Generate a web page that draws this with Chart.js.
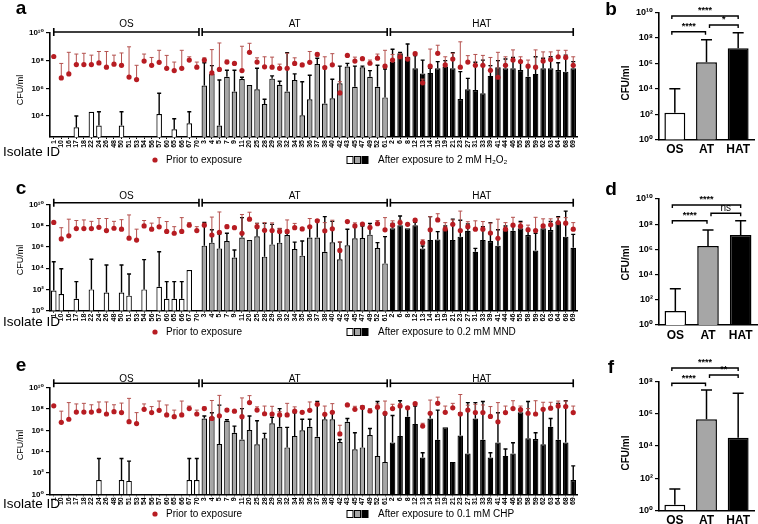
<!DOCTYPE html>
<html>
<head>
<meta charset="utf-8">
<script src="https://cdn.jsdelivr.net/npm/chart.js@4.4.1/dist/chart.umd.min.js"></script>
<style>
  body { margin: 0; background: #fff; width: 758px; height: 524px; position: relative; overflow: hidden; }
  canvas { position: absolute; }
</style>
</head>
<body>
<canvas id="chartA" width="600" height="175" style="left:0;top:0"></canvas>
<canvas id="chartC" width="600" height="170" style="left:0;top:175px"></canvas>
<canvas id="chartE" width="600" height="179" style="left:0;top:345px"></canvas>
<canvas id="chartB" width="158" height="175" style="left:600px;top:0"></canvas>
<canvas id="chartD" width="158" height="170" style="left:600px;top:175px"></canvas>
<canvas id="chartF" width="158" height="179" style="left:600px;top:345px"></canvas>
<script>
'use strict';

// Isolates, grouped
const osIds = ['1','10','16','17','18','22','24','26','48','50','51','53','54','56','57','60','65','66','67','70'];
const atIds = ['3','4','5','7','9','11','20','25','28','29','30','32','34','35','36','37','38','40','42','43','45','47','49','52','61'];
const hatIds = ['2','6','8','12','13','14','15','19','21','23','27','31','33','39','41','44','46','55','58','59','62','63','64','68','69'];
const isolateIds = osIds.concat(atIds, hatIds);

// CFU/ml prior to exposure (same in every panel) and upper error
const priorCfu = [
  2e8, 5.6e6, 1.1e7, 5.2e7, 5.2e7, 5.2e7, 6.9e7, 3.4e7, 5.6e7, 4.6e7, 6.5e6, 4.3e6, 9.3e7, 4.6e7, 7.6e7, 2.8e7, 1.9e7, 2.8e7, 1.1e8, 3.4e7,
  1.1e8, 1.3e7, 2.3e7, 7.9e7, 6.3e7, 1.9e7, 4e8, 7.9e7, 3.6e7, 3.4e7, 2.8e7, 2.8e7, 6.3e7, 4.9e7, 7.6e7, 2.8e8, 3.2e7, 5e7, 4.6e5, 2.4e8, 9.3e7, 1.4e8, 6.5e7, 1.5e8, 4e7,
  1.1e8, 1.9e8, 1.3e8, 3.2e8, 2.5e6, 4e7, 3.4e8, 4.9e7, 1.3e8, 3.4e7, 7.9e7, 4.6e7, 4.6e7, 2e7, 6.3e6, 4.6e7, 1.1e8, 8.7e7, 4e7, 3.4e7, 9.3e7, 1.2e8, 1.9e8, 1.7e8, 4.6e7
];
const priorErr = [
  null, 6.3e7, 4e8, 3e8, 3.4e8, 2.5e8, 4.6e8, 4.6e8, 2.5e8, 3.6e8, 1e9, 4.6e7, 3e8, 1.7e8, 5.6e8, 2.4e8, 7.9e7, 5.6e8, 1.9e8, 7.9e7,
  1.6e8, 6.3e8, 1.9e9, 1.1e8, null, 1.1e9, 1.8e9, 1.6e8, 1.9e8, 1.8e8, 5.6e7, 3.4e8, 1.6e8, 6.3e7, 4.6e8, 3.6e8, 1.9e8, 3.2e8, 3e6, null, 1.8e8, null, 1.1e8, 3e8, 5.6e8,
  2.8e8, 3.2e8, null, 4e8, 4.6e6, 6.9e8, 1.3e9, 1.9e8, 3.4e8, 2.3e9, 2.3e8, 2.8e8, 2.4e8, 1.7e8, 4e8, 1.9e8, 6e8, 1.9e8, 1.1e8, 6e8, 4.3e8, 4.3e8, 5.6e8, 5.6e8, 1.9e8
];

// After exposure to 2 mM H2O2
const h2o2Cfu = [
  null, null, null, 1.5e3, null, 2e4, 2e3, null, null, 2e3, null, null, null, null, 1.4e4, null, 1.1e3, null, 3e3, null,
  1.6e6, 1.1e7, 2e3, 6.9e6, 5.8e5, 4.7e6, 1.7e6, 8.5e5, 7.4e4, 5e6, 1.8e6, 5.8e5, 4e6, 1.1e4, 1.6e5, 5.8e7, 7.9e4, 1.9e5, 2.3e6, 3.7e7, 1.3e6, 3.3e7, 6.9e6, 1.3e6, 2.2e5,
  8.5e7, 3.4e8, 1.9e8, 2.8e7, 1.2e7, 1.3e7, 2.8e7, 3.7e7, 2.8e7, 1.7e5, 8.5e5, 7.6e5, 4.4e5, 7.9e6, 3.3e7, 2.8e7, 2.8e7, 2.1e7, 6.9e6, 1.1e7, 2.8e7, 2.8e7, 2.1e7, 1.6e7, 2.8e7
];
const h2o2Err = [
  null, null, null, 1e4, null, null, 2e4, null, null, 2e4, null, null, null, null, 4.4e5, null, 6.3e3, null, 2e4, null,
  7e7, 4.4e7, 4e6, 2e7, 2e7, 6.3e6, null, 2.8e7, 1.6e5, 7.9e6, 3.2e6, 3.8e8, 1.1e7, 3e6, 8.7e6, 1.5e8, 3.7e7, 4.5e6, 4e7, 6.3e7, 4e7, 4e7, 1.9e7, 4.6e7, 2.5e7,
  6.6e8, 4e8, 1.6e9, 2.3e8, 1.1e8, 2.8e7, 8.5e7, 1e8, 3.8e8, 1.6e7, 5.2e6, 7.6e7, 1.1e8, 4.4e7, 1e8, 1.3e8, 1.7e8, 8.5e7, 4e7, 1.9e8, 1.5e8, 1.9e8, 7e7, 2.5e8, 8.5e7
];

// After exposure to 0.2 mM MND
const mndCfu = [
  79, 37, null, 13, null, 100, null, 52, null, 52, 26, null, 100, null, 180, 13, 13, 13, 6.6e3, null,
  1.3e6, 2.5e6, 7.2e5, 3.5e6, 1e5, 7.4e6, 4.5e6, 1e7, 1.2e5, 1.7e6, 2.5e6, 1.3e7, 6.3e5, 1.5e5, 7.4e6, 7.4e6, 3.5e5, 2.7e6, 6.8e4, 1.4e6, 6.3e6, 6.8e6, 1.4e7, 7.9e5, 2.8e4,
  5.5e7, 1.1e8, 5.5e7, 1.1e8, 7.2e5, 4.5e6, 5e6, 4.5e7, 4.5e6, 9.1e6, 3.3e7, 3.5e5, 4.5e6, 3.5e6, 1.3e6, 4.5e7, 3.3e7, 5.5e7, 1.3e7, 4.5e5, 5.5e7, 3.8e7, 2.2e8, 9.1e6, 8.3e5
];
const mndErr = [
  4e4, 8.9e3, null, 540, null, 6.8e4, null, 2e4, null, 2e4, 2.8e3, null, 6.3e4, null, 3.5e5, 540, 540, 540, null, null,
  2e8, 4e7, 1.6e7, 1.9e7, 5e5, 5.6e8, null, 1.6e8, 1.6e8, 1.3e8, 5e7, 2e7, 2.8e6, 3.5e6, 8.5e7, 3.4e8, 6.9e8, 2.5e8, 2.8e6, 4.5e7, 7.9e7, 9.1e7, 1.6e8, 2.5e6, 9.1e6,
  1.6e8, 7.9e8, null, 2e8, 1.2e6, 6.9e8, 2.7e7, 9e7, 4e8, 3.2e8, 1.4e8, 7.2e5, 7.9e7, 1.9e8, 4e7, 9e7, 1e8, 2.5e8, 5.5e7, 1.9e7, 1.1e8, 2.4e8, 6.9e8, 2.3e9, 1.5e7
];

// After exposure to 0.1 mM CHP
const chpCfu = [
  null, null, null, null, null, null, 22, null, null, 22, 18, null, null, null, null, null, null, null, 22, 22,
  1.3e7, 1.9e7, 5.2e4, 7.9e6, 6e5, 1.4e5, 1.1e6, 4.9e4, 1.8e5, 4.6e6, 2.2e6, 2.5e4, 3e5, 1e6, 2.2e6, 2.5e5, 1.1e7, 1.1e7, 7.9e4, 6.3e6, 1.7e4, 2.5e4, 3.6e5, 4e3, 1.1e3,
  7.4e4, 3e5, 1.9e7, 4e6, 2.8e3, 1.3e7, 1.3e5, 1.9e6, 1.1e3, 3.2e5, 6.9e3, 1.3e7, 1.3e5, 2.8e3, 7.4e4, 4e3, 6.9e3, 4.9e7, 1.8e5, 1.5e5, 4.9e4, 2.2e6, 1.3e5, 7.4e4, 22
];
const chpErr = [
  null, null, null, null, null, null, 2.3e3, null, null, 2.3e3, 1.3e3, null, null, null, null, null, null, null, 2.3e3, 2.3e3,
  2.2e7, 4.5e7, 2.3e8, 1e7, 2.5e6, 1.1e8, 2.2e7, 7.9e6, 5.2e5, 1.7e7, 1.1e8, 1.9e6, 4.5e7, 1.1e7, 1.1e7, 5e8, 2.8e7, 5.6e7, 1.4e5, 1.3e7, 6e5, 1.9e8, 1.5e6, 5e8, 2.8e7,
  2.5e7, 6e8, 1.4e8, 1.9e8, 7.9e3, 4e7, 7.9e7, null, null, 4.5e7, 4e8, 4e8, 5e8, 7.9e3, 4.5e7, 1.8e4, 6.9e4, 9.3e7, 5e8, 6e5, 1.1e8, 1.3e7, 3.4e8, 6e8, 4.6e2
];

// Group summaries (b, d, f)
const groupNames = ['OS', 'AT', 'HAT'];
const h2o2Group = [1.3e2, 1.2e6, 1.5e7];
const h2o2GroupErr = [1e4, 7e7, 2.5e8];
const mndGroup = [13, 1.9e6, 1.4e7];
const mndGroupErr = [7.6e2, 3.5e7, 1.9e8];
const chpGroup = [2.2, 4.6e5, 3.3e4];
const chpGroupErr = [21, 3e7, 1.9e7];

const groupColors = ['#ffffff', '#a6a6a6', '#000000'];
const FONT = '"Liberation Sans", Arial, "DejaVu Sans", sans-serif';
const DOT_RED = '#b71c22';
const ERR_RED = '#b4514e';

const SUP = { '0': '\u2070', '1': '\u00b9', '2': '\u00b2', '4': '\u2074', '6': '\u2076', '8': '\u2078' };
function powLabel(v) {
  const e = String(Math.round(Math.log10(v)));
  return '10' + e.split('').map(c => SUP[c]).join('');
}

function isolateColors() {
  const n1 = osIds.length, n2 = n1 + atIds.length;
  return isolateIds.map((id, i) => i < n1 ? groupColors[0] : (i < n2 ? groupColors[1] : groupColors[2]));
}

function drawErrors(chart, index) {
  const ds = chart.data.datasets[index];
  if (!ds.errHi) return;
  const meta = chart.getDatasetMeta(index);
  const ys = chart.scales.y;
  const ctx = chart.ctx;
  ctx.save();
  ctx.strokeStyle = ds.errColor;
  ctx.lineWidth = ds.errWidth;
  meta.data.forEach((el, i) => {
    if (ds.data[i] == null || ds.errHi[i] == null) return;
    const yTop = ys.getPixelForValue(ds.errHi[i]);
    ctx.beginPath();
    ctx.moveTo(el.x, el.y);
    ctx.lineTo(el.x, yTop);
    ctx.moveTo(el.x - ds.capW / 2, yTop);
    ctx.lineTo(el.x + ds.capW / 2, yTop);
    ctx.stroke();
  });
  ctx.restore();
}

// bar errors go on top of bars, dot errors go under the dots
const errorBars = {
  id: 'errorBars',
  afterDatasetDraw(chart, args) {
    if (chart.data.datasets[args.index].type !== 'line') drawErrors(chart, args.index);
  },
  beforeDatasetDraw(chart, args) {
    if (chart.data.datasets[args.index].type === 'line') drawErrors(chart, args.index);
  }
};

function text(ctx, str, x, y, font, align) {
  ctx.font = font;
  ctx.fillStyle = '#000';
  ctx.textAlign = align || 'center';
  ctx.textBaseline = 'middle';
  ctx.fillText(str, x, y);
}

function yTitle(ctx, str, x, y, font) {
  ctx.save();
  ctx.translate(x, y);
  ctx.rotate(-Math.PI / 2);
  text(ctx, str, 0, 0, font);
  ctx.restore();
}

const wideDeco = {
  id: 'wideDeco',
  afterDraw(chart, args, o) {
    const ctx = chart.ctx;
    const xs = chart.scales.x;
    const p = i => xs.getPixelForTick(i);
    const n1 = osIds.length, n2 = n1 + atIds.length, n3 = isolateIds.length;
    const start = p(0), end = p(n3 - 1);
    const b1 = (p(n1 - 1) + p(n1)) / 2, b2 = (p(n2 - 1) + p(n2)) / 2;

    // group brackets above the plot
    ctx.save();
    ctx.strokeStyle = '#000';
    ctx.lineWidth = 1.6;
    const segs = [[start, b1 - 1.6], [b1 + 1.6, b2 - 1.6], [b2 + 1.6, end]];
    segs.forEach(s => {
      ctx.beginPath();
      ctx.moveTo(s[0], o.lineY); ctx.lineTo(s[1], o.lineY);
      ctx.moveTo(s[0], o.lineY - 4); ctx.lineTo(s[0], o.lineY + 4);
      ctx.moveTo(s[1], o.lineY - 4); ctx.lineTo(s[1], o.lineY + 4);
      ctx.stroke();
    });
    ctx.restore();
    groupNames.forEach((g, k) => {
      text(ctx, g, (segs[k][0] + segs[k][1]) / 2, o.labelY, '10px ' + FONT);
    });

    text(ctx, o.letter, 21, o.letterY, 'bold 19px ' + FONT);
    yTitle(ctx, 'CFU/ml', 21, o.titleY, '9px ' + FONT);
    text(ctx, 'Isolate ID', 3, o.isolateY, '13.5px ' + FONT, 'left');

    // legend
    ctx.fillStyle = DOT_RED;
    ctx.beginPath();
    ctx.arc(155, o.legendY, 2.6, 0, Math.PI * 2);
    ctx.fill();
    text(ctx, 'Prior to exposure', 166, o.legendY, '10px ' + FONT, 'left');
    groupColors.forEach((c, k) => {
      const sx = 347 + k * 7.5;
      ctx.fillStyle = c;
      ctx.fillRect(sx, o.legendY - 3.5, 6, 7);
      ctx.strokeStyle = '#000';
      ctx.lineWidth = 1;
      ctx.strokeRect(sx, o.legendY - 3.5, 6, 7);
    });
    text(ctx, o.exposure, 378, o.legendY, '10px ' + FONT, 'left');
  }
};

const smallDeco = {
  id: 'smallDeco',
  afterDraw(chart, args, o) {
    const ctx = chart.ctx;
    const xs = chart.scales.x;
    text(ctx, o.letter, 11, o.letterY, 'bold 19px ' + FONT);
    yTitle(ctx, 'CFU/ml', 26, o.titleY, 'bold 10px ' + FONT);
    ctx.save();
    ctx.strokeStyle = '#000';
    ctx.lineWidth = 1.4;
    o.sig.forEach(s => {
      const x0 = xs.getPixelForTick(s.from) + (s.from > 0 ? 3 : -3);
      const x1 = xs.getPixelForTick(s.to) + (s.to - s.from === 1 && s.to === 1 ? -1 : 0);
      ctx.beginPath();
      ctx.moveTo(x0, s.y + 3); ctx.lineTo(x0, s.y); ctx.lineTo(x1, s.y); ctx.lineTo(x1, s.y + 3);
      ctx.stroke();
      text(ctx, s.text, (x0 + x1) / 2, s.y - 5, (s.text === 'ns' ? '10px ' : 'bold 9px ') + FONT);
    });
    ctx.restore();
  }
};

function logAxis(min, max, tickVals, width, fontSize) {
  return {
    type: 'logarithmic', min: min, max: max, bounds: 'data',
    afterBuildTicks: s => { s.ticks = tickVals.map(v => ({ value: v })); },
    afterFit: s => { s.width = width; },
    ticks: { callback: v => powLabel(v), color: '#000', padding: 2, font: { family: FONT, size: fontSize, weight: 'bold' } },
    grid: { drawOnChartArea: false, tickLength: 4, color: '#000', lineWidth: 1.2 },
    border: { color: '#000', width: 1.6 }
  };
}

function wideChart(id, cfu, err, yMin, tickVals, pad, xHeight, deco) {
  return new Chart(document.getElementById(id), {
    type: 'bar',
    data: {
      labels: isolateIds,
      datasets: [{
        type: 'line',
        label: 'Prior to exposure',
        data: priorCfu,
        showLine: false,
        pointRadius: 2.6,
        pointBorderWidth: 0,
        pointBackgroundColor: DOT_RED,
        order: 0,
        errHi: priorErr, errColor: ERR_RED, errWidth: 1, capW: 4
      }, {
        type: 'bar',
        label: 'After exposure',
        data: cfu,
        backgroundColor: isolateColors(),
        borderColor: '#000',
        borderWidth: 1.2,
        barPercentage: 0.74,
        categoryPercentage: 1,
        order: 1,
        errHi: err, errColor: '#000', errWidth: 1.4, capW: 4
      }]
    },
    options: {
      responsive: false,
      animation: false,
      devicePixelRatio: 1,
      layout: { padding: { left: 0, right: 23, top: pad, bottom: 0 } },
      plugins: { legend: { display: false }, tooltip: { enabled: false }, wideDeco: deco },
      scales: {
        x: {
          offset: true,
          afterFit: s => { s.height = xHeight; },
          ticks: { autoSkip: false, minRotation: 90, maxRotation: 90, padding: 1, color: '#000', font: { family: FONT, size: 7, weight: 'bold' } },
          grid: { offset: false, drawOnChartArea: false, tickLength: 2, color: '#000' },
          border: { color: '#000', width: 1.6 }
        },
        y: logAxis(yMin, 1e10, tickVals, 50, 8)
      }
    },
    plugins: [errorBars, wideDeco]
  });
}

function groupChart(id, values, err, yMax, tickVals, pad, padRight, xHeight, deco) {
  return new Chart(document.getElementById(id), {
    type: 'bar',
    data: {
      labels: groupNames,
      datasets: [{
        data: values,
        backgroundColor: groupColors,
        borderColor: '#000',
        borderWidth: 1.5,
        barPercentage: 0.66,
        categoryPercentage: 1,
        errHi: err, errColor: '#000', errWidth: 1.5, capW: 11
      }]
    },
    options: {
      responsive: false,
      animation: false,
      devicePixelRatio: 1,
      layout: { padding: { left: 0, right: padRight, top: pad, bottom: 0 } },
      plugins: { legend: { display: false }, tooltip: { enabled: false }, smallDeco: deco },
      scales: {
        x: {
          afterFit: s => { s.height = xHeight; },
          ticks: { padding: 3, color: '#000', font: { family: FONT, size: 12, weight: 'bold' } },
          grid: { display: false, drawTicks: false, tickLength: 0 },
          border: { color: '#000', width: 1.6 }
        },
        y: logAxis(1, yMax, tickVals, 59, 9)
      }
    },
    plugins: [errorBars, smallDeco]
  });
}

const ticks10 = [1, 1e2, 1e4, 1e6, 1e8, 1e10];

wideChart('chartA', h2o2Cfu, h2o2Err, 300, [1e4, 1e6, 1e8, 1e10], 33, 38,
  { letter: 'a', letterY: 9, labelY: 24, lineY: 32, titleY: 90, isolateY: 152, legendY: 160, exposure: 'After exposure to 2 mM H\u2082O\u2082' });
wideChart('chartC', mndCfu, mndErr, 1, ticks10, 29.3, 34.3,
  { letter: 'c', letterY: 14, labelY: 21.7, lineY: 27.7, titleY: 85, isolateY: 147, legendY: 157, exposure: 'After exposure to 0.2 mM MND' });
wideChart('chartE', chpCfu, chpErr, 1, ticks10, 42.7, 29.7,
  { letter: 'e', letterY: 21, labelY: 34, lineY: 38.3, titleY: 100, isolateY: 159, legendY: 169, exposure: 'After exposure to 0.1 mM CHP' });

groupChart('chartB', h2o2Group, h2o2GroupErr, 1e10, ticks10, 12.3, 4, 35.3,
  { letter: 'b', letterY: 10, titleY: 83, sig: [
    { from: 0, to: 2, y: 16, text: '****' },
    { from: 0, to: 1, y: 31.7, text: '****' },
    { from: 1, to: 2, y: 25, text: '*' }] });
groupChart('chartD', mndGroup, mndGroupErr, 1e10, ticks10, 24, 1, 20,
  { letter: 'd', letterY: 15, titleY: 88, sig: [
    { from: 0, to: 2, y: 30, text: '****' },
    { from: 0, to: 1, y: 45.7, text: '****' },
    { from: 1, to: 2, y: 38.3, text: 'ns' }] });
groupChart('chartF', chpGroup, chpGroupErr, 1e8, [1, 1e2, 1e4, 1e6, 1e8], 36.7, 4, 13.7,
  { letter: 'f', letterY: 23, titleY: 108, sig: [
    { from: 0, to: 2, y: 23, text: '****' },
    { from: 0, to: 1, y: 38.3, text: '****' },
    { from: 1, to: 2, y: 30, text: '**' }] });
</script>
</body>
</html>
